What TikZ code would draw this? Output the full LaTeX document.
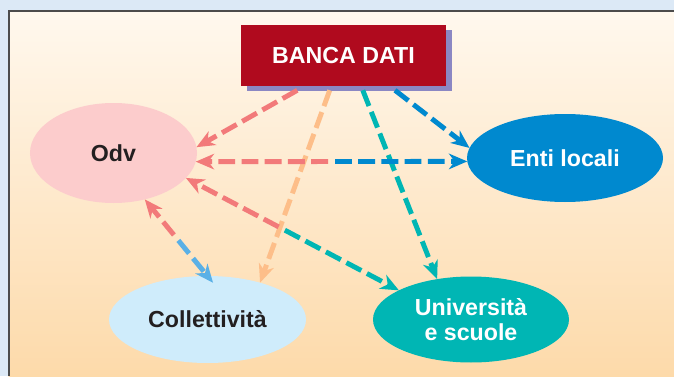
\documentclass[tikz,border=0pt]{standalone}
\usepackage{fontspec}
\setmainfont{Liberation Sans}
\usepackage{xcolor}
\usepackage{tikz}
\usetikzlibrary{arrows.meta, positioning, calc, shapes.geometric, shadows}

\definecolor{bgblue}{RGB}{220,233,246}
\definecolor{paneltop}{RGB}{255,248,238}
\definecolor{panelbot}{RGB}{253,218,170}
\definecolor{dbred}{RGB}{176,10,30}
\definecolor{dbshadow}{RGB}{139,135,195}
\definecolor{odvpink}{RGB}{252,204,204}
\definecolor{entiblue}{RGB}{0,137,207}
\definecolor{collblue}{RGB}{207,236,251}
\definecolor{uniteal}{RGB}{0,182,180}
\definecolor{salmon}{RGB}{242,122,122}
\definecolor{peach}{RGB}{253,190,137}
\definecolor{skyblue}{RGB}{90,176,230}
\definecolor{inkdark}{RGB}{35,31,32}

\begin{document}
\begin{tikzpicture}[
    font=\fontsize{16.5}{17.7}\selectfont\bfseries,
    dbbox/.style={rectangle, fill=dbred, text=white,
                  minimum width=5.125cm, minimum height=1.525cm,
                  general shadow={fill=dbshadow, shadow xshift=0.15cm, shadow yshift=-0.125cm}},
    party/.style={ellipse, inner sep=0pt, outer sep=0pt, align=center,
                  minimum width=4.9cm, minimum height=2.2cm},
    flow/.style={-{Stealth[length=13pt, width=11pt, inset=4pt]},
                 line width=3.5pt, dash pattern=on 12pt off 4.5pt},
    twoway/.style={flow, dash phase=14pt}
  ]
    % Frame
    \useasboundingbox (0,0) rectangle (16.85,9.4);
    \fill[bgblue] (0,0) rectangle (16.85,9.4);
    \fill[top color=paneltop, bottom color=panelbot] (0.2175,0) rectangle (16.85,9.125);
    \draw[line width=1.2pt, black!70] (0.2175,0) -- (0.2175,9.125) -- (16.85,9.125);

    % Partners
    \node[party, fill=odvpink, text=inkdark, minimum width=4.175cm, minimum height=2.5cm] (odv) at (2.8375,5.575) {Odv};
    \node[party, fill=entiblue, text=white, right=6.75cm of odv, yshift=-0.125cm] (enti) {Enti locali};
    \node[party, fill=collblue, text=inkdark, minimum width=4.925cm, minimum height=2.175cm] (coll) at (5.1875,1.4125) {Collettività};
    \node[party, fill=uniteal, text=white, minimum height=2.15cm, right=1.675cm of coll] (uni) {Università\\e scuole};

    % Data bank
    \node[dbbox] (banca) at (8.5875,8.0125) {BANCA DATI};

    % Flows from the data bank
    \coordinate (f1) at ($(banca.south)+(-1.155,-0.1)$);
    \coordinate (f2) at ($(banca.south)+(-0.345,-0.1)$);
    \coordinate (f3) at ($(banca.south)+(0.4825,-0.1)$);
    \coordinate (f4) at ($(banca.south)+(1.2875,-0.1)$);
    \draw[flow, salmon]   (f1) -- (odv.4);
    \draw[flow, peach]    (f2) -- (coll.35);
    \draw[flow, uniteal]  (f3) -- (uni.130);
    \draw[flow, entiblue] (f4) -- (enti.174);

    % Two-way flows with Odv
    \coordinate (m1) at ($(odv.-6)!0.5!(enti.182)$);
    \coordinate (m2) at ($(odv.-19)!0.45!(uni.158)$);
    \coordinate (m3) at ($(odv.-56)!0.5!(coll.north)$);
    \draw[twoway, salmon]   (m1) -- (odv.-6);
    \draw[twoway, entiblue] (m1) -- (enti.182);
    \draw[twoway, salmon]   (m2) -- (odv.-19);
    \draw[twoway, uniteal]  (m2) -- (uni.158);
    \draw[twoway, salmon]   (m3) -- (odv.-56);
    \draw[twoway, skyblue, shorten >=-0.22cm] (m3) -- (coll.north);
  \end{tikzpicture}
\end{document}
